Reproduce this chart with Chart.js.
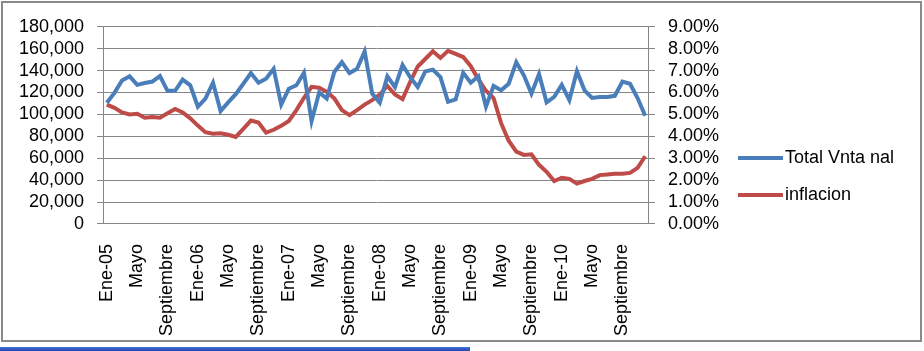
<!DOCTYPE html>
<html>
<head>
<meta charset="utf-8">
<script src="https://cdn.jsdelivr.net/npm/chart.js@4.4.1/dist/chart.umd.min.js"></script>
<style>
    html, body { margin: 0; padding: 0; background: #fff; }
    #marco {
        position: absolute; left: 1px; top: 1px;
        width: 917px; height: 337px;
        border: 2px solid #8a8a8a;
        background: #fff;
    }
    #grafico { display: block; }
    #barra {
        position: absolute; left: 0; top: 347px; width: 470px; height: 4px;
        background: linear-gradient(to bottom, #4a72d8, #2145b8);
    }
</style>
</head>
<body>
<div id="marco"><canvas id="grafico" width="917" height="337"></canvas></div>
<div id="barra"></div>
<script>
// meses y años de la serie (Ene-05 a Dic-10)
var meses = ["Ene", "Febrero", "Marzo", "Abril", "Mayo", "Junio", "Julio",
    "Agosto", "Septiembre", "Octubre", "Noviembre", "Diciembre"];
var anios = ["05", "06", "07", "08", "09", "10"];

// Total Vnta nal
var ventas = [
    110600, 119700, 131000, 134800, 127000, 128700, 130000, 135000, 121500, 121500, 131700, 126600,
    107000, 114500, 129000, 103000, 111000, 118500, 128000, 137800, 129000, 132600, 141600, 109000,
    123500, 126600, 138000, 94000, 120000, 114500, 138700, 147700, 137800, 141600, 157400, 119000,
    110600, 134800, 125000, 145300, 134000, 125000, 139300, 140800, 134000, 111500, 113600, 138000,
    129000, 134800, 107000, 126000, 122000, 128000, 147700, 135700, 119000, 137000, 111000, 116000,
    127000, 113000, 139500, 122000, 115000, 116000, 116000, 117000, 130000, 128000, 115000, 98800
];

// inflacion (%)
var inflacion = [
    5.45, 5.30, 5.09, 5.00, 5.03, 4.85, 4.88, 4.85, 5.05, 5.25, 5.09, 4.82,
    4.49, 4.19, 4.12, 4.14, 4.07, 3.97, 4.34, 4.72, 4.63, 4.17, 4.30, 4.48,
    4.70, 5.20, 5.76, 6.26, 6.22, 6.03, 5.73, 5.20, 4.97, 5.20, 5.45, 5.65,
    5.91, 6.30, 5.91, 5.70, 6.48, 7.19, 7.53, 7.88, 7.58, 7.90, 7.76, 7.62,
    7.20, 6.60, 6.08, 5.75, 4.60, 3.80, 3.30, 3.15, 3.18, 2.70, 2.38, 1.96,
    2.11, 2.06, 1.84, 1.96, 2.06, 2.23, 2.26, 2.29, 2.29, 2.33, 2.56, 3.09
];

var etiquetas = [];
for (var a = 0; a < anios.length; a++) {
    for (var m = 0; m < meses.length; m++) {
        etiquetas.push(m === 0 ? meses[m] + "-" + anios[a] : meses[m]);
    }
}

var gris = "#868686";
var fuente = "'Liberation Sans', Arial, sans-serif";

// leyenda a mano: la del plugin se recorta por el ancho maximo de las cajas laterales
var leyenda = {
    id: 'leyenda',
    afterDraw: function (chart) {
        var c = chart.ctx;
        var ds = chart.data.datasets;
        var x0 = chart.scales.y2.right + 6;
        var yc = chart.height / 2 + 5;
        c.save();
        c.font = "18px " + fuente;
        c.textBaseline = 'middle';
        c.textAlign = 'left';
        for (var i = 0; i < ds.length; i++) {
            var y = yc + (i - 0.5) * 37;
            c.fillStyle = ds[i].borderColor;
            c.fillRect(x0, y - 2, 45, 4);
            c.fillStyle = '#000';
            c.fillText(ds[i].label, x0 + 47, y);
        }
        c.restore();
    }
};

var config = {
    type: 'line',
    data: {
        labels: etiquetas,
        datasets: [{
            label: "Total Vnta nal",
            data: ventas,
            yAxisID: 'y',
            borderColor: '#4a7ebb',
            backgroundColor: '#4a7ebb',
            borderWidth: 4,
            pointRadius: 0,
            tension: 0
        },
        {
            label: "inflacion",
            data: inflacion,
            yAxisID: 'y2',
            borderColor: '#be4b48',
            backgroundColor: '#be4b48',
            borderWidth: 4,
            pointRadius: 0,
            tension: 0
        }]
    },
    options: {
        responsive: false,
        animation: false,
        layout: {
            padding: { left: 3, right: 188, top: 21, bottom: -16 }
        },
        plugins: {
            tooltip: { enabled: false },
            legend: { display: false }
        },
        scales: {
            x: {
                offset: true,
                grid: { display: false, drawTicks: false },
                border: { display: true, color: gris, width: 1 },
                ticks: {
                    autoSkip: false,
                    minRotation: 90,
                    maxRotation: 90,
                    padding: 20,
                    color: '#000',
                    font: { family: fuente, size: 18 },
                    callback: function (val, idx) {
                        return idx % 4 === 0 ? this.getLabelForValue(val) : '';
                    }
                }
            },
            y: {
                position: 'left',
                min: 0,
                max: 180000,
                grid: { color: gris, lineWidth: 1, tickLength: 6 },
                border: { display: true, color: gris, width: 1 },
                ticks: {
                    autoSkip: false,
                    stepSize: 20000,
                    padding: 13,
                    color: '#000',
                    font: { family: fuente, size: 18 },
                    callback: function (v) { return v.toLocaleString('en-US'); }
                }
            },
            y2: {
                position: 'right',
                min: 0,
                max: 9,
                grid: { drawOnChartArea: false, color: gris, tickLength: 6 },
                border: { display: true, color: gris, width: 1 },
                ticks: {
                    autoSkip: false,
                    stepSize: 1,
                    padding: 13,
                    color: '#000',
                    font: { family: fuente, size: 18 },
                    callback: function (v) { return v.toFixed(2) + '%'; }
                }
            }
        }
    },
    plugins: [leyenda]
};

var ctx = document.getElementById("grafico").getContext("2d");
new Chart(ctx, config);
</script>
</body>
</html>
